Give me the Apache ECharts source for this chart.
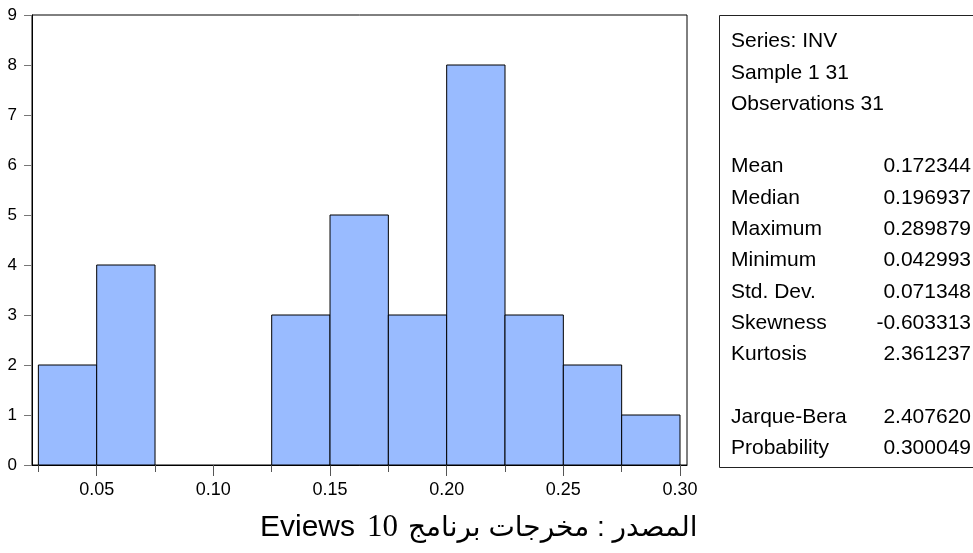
<!DOCTYPE html>
<html>
<head>
<meta charset="utf-8">
<script src="https://cdn.jsdelivr.net/npm/echarts@6/dist/echarts.min.js"></script>
<style>
  html, body { margin: 0; padding: 0; background: #ffffff; }
  #main { width: 973px; height: 553px; }
</style>
</head>
<body>
<div id="main"></div>
<script>
// Histogram bins (lower edges), bin width and observation counts
const binStarts = [0.025, 0.05, 0.075, 0.10, 0.125, 0.15, 0.175, 0.20, 0.225, 0.25, 0.275];
const binWidth = 0.025;
const counts = [2, 4, 0, 0, 3, 5, 3, 8, 3, 2, 1];

// Axis tick values
const xMajorTicks = [0.05, 0.10, 0.15, 0.20, 0.25, 0.30];
const yTicks = [0, 1, 2, 3, 4, 5, 6, 7, 8, 9];

// Descriptive statistics panel
const headerLines = ['Series: INV', 'Sample 1 31', 'Observations 31'];
const statNames = ['Mean', 'Median', 'Maximum', 'Minimum', 'Std. Dev.', 'Skewness', 'Kurtosis'];
const statValues = ['0.172344', '0.196937', '0.289879', '0.042993', '0.071348', '-0.603313', '2.361237'];
const testNames = ['Jarque-Bera', 'Probability'];
const testValues = ['2.407620', '0.300049'];

// Source note
const sourceLabel = 'المصدر : مخرجات برنامج';
const sourceVersion = '10';
const sourceProgram = 'Eviews';

const FONT = 'Arial, "Liberation Sans", "DejaVu Sans", sans-serif';
const SERIF = '"Times New Roman", "Liberation Serif", serif';

const chart = echarts.init(document.getElementById('main'), null, { renderer: 'canvas' });

const histData = binStarts.map((s, i) => [s, +(s + binWidth).toFixed(3), counts[i]]);
const minorTicks = binStarts.filter(v => !xMajorTicks.some(m => Math.abs(m - v) < 1e-9));

const xMin = 0.02227, xMax = 0.3030;

// Statistics panel: frame and two text columns
const panelGraphics = [];
panelGraphics.push({
  type: 'rect',
  shape: { x: 719.5, y: 15.5, width: 300, height: 452 },
  style: { fill: 'none', stroke: '#222', lineWidth: 1 },
  silent: true
});
const rows = [];
headerLines.forEach(t => rows.push([t, '']));
rows.push(null);
statNames.forEach((n, i) => rows.push([n, statValues[i]]));
rows.push(null);
testNames.forEach((n, i) => rows.push([n, testValues[i]]));
const rowTop = 41.5, rowStep = 31.3;
rows.forEach((r, i) => {
  if (!r) return;
  const y = rowTop + i * rowStep;
  panelGraphics.push({
    type: 'text', x: 731, y: y,
    style: { text: r[0], font: '21px ' + FONT, fill: '#000', textAlign: 'left', textVerticalAlign: 'middle' },
    silent: true
  });
  if (r[1]) {
    panelGraphics.push({
      type: 'text', x: 971, y: y,
      style: { text: r[1], font: '21px ' + FONT, fill: '#000', textAlign: 'right', textVerticalAlign: 'middle' },
      silent: true
    });
  }
});

// Source note below the plot: program name, version (serif), Arabic label
panelGraphics.push({
  type: 'text', x: 260, y: 528,
  style: {
    text: '{p|' + sourceProgram + '}{v|' + sourceVersion + '}{a|' + sourceLabel + '}',
    textAlign: 'left', textVerticalAlign: 'middle',
    rich: {
      p: { fontFamily: FONT, fontSize: 30, fill: '#000' },
      v: { fontFamily: SERIF, fontSize: 31, fill: '#000', padding: [0, 10, 0, 12] },
      a: { fontFamily: FONT, fontSize: 28, fill: '#000' }
    }
  },
  silent: true
});

const option = {
  animation: false,
  backgroundColor: '#ffffff',
  grid: {
    left: 32, right: 286, top: 15, bottom: 88,
    show: true, borderColor: '#000', borderWidth: 1, backgroundColor: 'transparent'
  },
  xAxis: [
    {
      type: 'value', min: xMin, max: xMax, position: 'bottom',
      axisLine: { show: true, onZero: false, lineStyle: { color: '#000', width: 1 } },
      axisTick: { show: true, inside: false, length: 11, customValues: xMajorTicks, lineStyle: { color: '#555', width: 1 } },
      axisLabel: {
        show: true, customValues: xMajorTicks, margin: 16,
        formatter: v => v.toFixed(2), fontFamily: FONT, fontSize: 18, color: '#000'
      },
      splitLine: { show: false }
    },
    {
      type: 'value', min: xMin, max: xMax, position: 'bottom', gridIndex: 0,
      axisLine: { show: false },
      axisTick: { show: true, inside: false, length: 7, customValues: minorTicks, lineStyle: { color: '#555', width: 1 } },
      axisLabel: { show: false },
      splitLine: { show: false }
    }
  ],
  yAxis: {
    type: 'value', min: yTicks[0], max: yTicks[yTicks.length - 1], interval: 1,
    axisLine: { show: true, onZero: false, lineStyle: { color: '#000', width: 1 } },
    axisTick: { show: true, inside: false, length: 8, lineStyle: { color: '#777', width: 1 } },
    axisLabel: { show: true, margin: 15, fontFamily: FONT, fontSize: 17, color: '#000' },
    splitLine: { show: false }
  },
  series: [{
    type: 'custom',
    xAxisIndex: 0,
    data: histData,
    encode: { x: [0, 1], y: 2 },
    renderItem: function (params, api) {
      const c = api.value(2);
      if (!c) return null;
      const topLeft = api.coord([api.value(0), c]);
      const bottomRight = api.coord([api.value(1), 0]);
      return {
        type: 'rect',
        shape: {
          x: topLeft[0], y: topLeft[1],
          width: bottomRight[0] - topLeft[0], height: bottomRight[1] - topLeft[1]
        },
        style: { fill: '#99BBFF', stroke: '#000', lineWidth: 1 }
      };
    }
  }],
  graphic: panelGraphics
};

chart.setOption(option);
</script>
</body>
</html>
